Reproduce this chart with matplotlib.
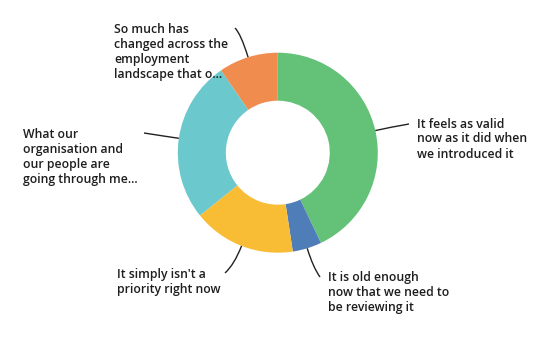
import numpy as np
import matplotlib
matplotlib.use("Agg")
import matplotlib.pyplot as plt
from matplotlib.path import Path
from matplotlib.patches import PathPatch

# data (shares of responses, clockwise from 12 o'clock)
labels = [
    "It feels as valid\nnow as it did when\nwe introduced it",
    "It is old enough\nnow that we need to\nbe reviewing it",
    "It simply isn't a\npriority right now",
    "What our\norganisation and\nour people are\ngoing through me...",
    "So much has\nchanged across the\nemployment\nlandscape that o...",
]
shares = [42.9, 4.7, 16.6, 26.2, 9.6]
colors = ["#64C178", "#4F7DB8", "#F8BD35", "#6BC8CD", "#F08C4E"]

W, H = 551, 338
fig = plt.figure(figsize=(W / 100, H / 100), dpi=100)
ax = fig.add_axes([0, 0, 1, 1])

cx, cy, R = 277.8, H - 152.7, 100.0
wedges, _ = ax.pie(shares, colors=colors, startangle=90, counterclock=False,
                   center=(cx, cy), radius=R, frame=True,
                   wedgeprops=dict(width=R * 0.48, linewidth=0))
ax.set_xlim(0, W)
ax.set_ylim(0, H)
ax.axis("off")

# label layout: text anchor (image px), leader end (image px), bend length
layout = [
    ((417, 139), (409, 124), 15),
    ((328, 292), (320, 277), 20),
    ((117, 282), (225, 273), 20),
    ((23, 157), (144, 133), 15),
    ((114, 52), (235, 28), 25),
]

for w, lab, (tpos, lend, bend) in zip(wedges, labels, layout):
    mid = np.deg2rad((w.theta1 + w.theta2) / 2)
    ux, uy = np.cos(mid), np.sin(mid)
    p0 = (cx + R * ux, cy + R * uy)
    p1 = (p0[0] + bend * ux, p0[1] + bend * uy)
    p2 = (lend[0], H - lend[1])
    path = Path([p0, p1, p2], [Path.MOVETO, Path.CURVE3, Path.CURVE3])
    ax.add_patch(PathPatch(path, fill=False, lw=1.0, color="#222222"))
    ax.text(tpos[0], H - tpos[1], lab, ha="left", va="center",
            fontsize=8.8, family="Open Sans", weight="semibold",
            color="#1e1e1e", linespacing=1.2)

fig.savefig("out.png", dpi=100)
